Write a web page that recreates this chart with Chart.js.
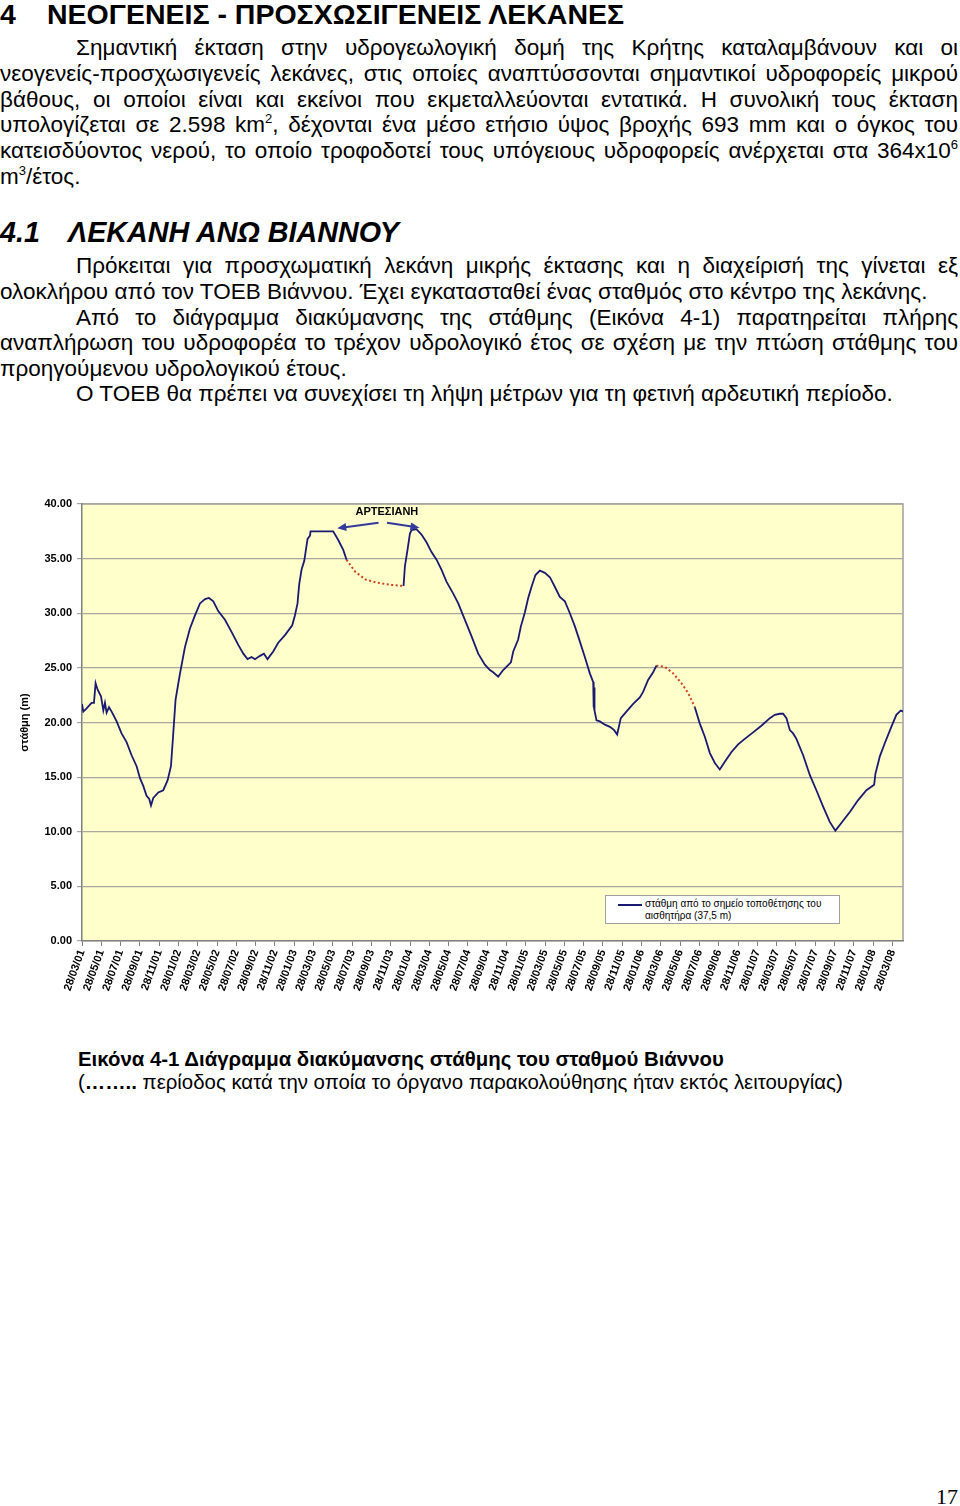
<!DOCTYPE html>
<html>
<head>
<meta charset="utf-8">
<script src="https://cdn.jsdelivr.net/npm/chart.js@4.4.0/dist/chart.umd.min.js"></script>
<style>
  body { margin: 0; background: #fff; font-family: "Liberation Sans", Arial, sans-serif; color: #000; }
  #page { position: relative; width: 960px; height: 1506px; overflow: hidden; }
  .abs { position: absolute; left: 0; white-space: nowrap; }
  .h1 { font-weight: bold; font-size: 28.5px; }
  .h2 { font-weight: bold; font-style: italic; font-size: 28.7px; }
  .ln { position: absolute; left: 0; width: 958px; font-size: 22.5px; line-height: 24px; white-space: nowrap; }
  .j { text-align: justify; text-align-last: justify; white-space: normal; }
  .ind { padding-left: 76px; box-sizing: border-box; }
  sup { font-size: 13px; line-height: 0; vertical-align: 9px; }
  #chartbox { position: absolute; left: 0; top: 480px; width: 960px; height: 540px; }
  #legend { position: absolute; left: 605px; top: 895px; width: 233px; height: 27px; border: 1px solid #a0a0a0; background: #fff; font-size: 10px; line-height: 12px; }
  #legend .swatch { position: absolute; left: 12px; top: 8px; width: 24px; height: 2px; background: #1a1a70; }
  #legend .txt { position: absolute; left: 39px; top: 2px; white-space: nowrap; }
  .cap { position: absolute; left: 78px; font-size: 20.4px; line-height: 23px; white-space: nowrap; }
  #pg { position: absolute; left: 936px; top: 1484px; font-family: "Liberation Serif", "DejaVu Serif", serif; font-size: 22px; }
</style>
</head>
<body>
<div id="page">
  <div class="abs h1" style="top:-2px">4<span class="abs" style="left:47px">ΝΕΟΓΕΝΕΙΣ - ΠΡΟΣΧΩΣΙΓΕΝΕΙΣ ΛΕΚΑΝΕΣ</span></div>

  <div class="ln j ind" style="top:36px">Σημαντική έκταση στην υδρογεωλογική δομή της Κρήτης καταλαμβάνουν και οι</div>
  <div class="ln j" style="top:62px">νεογενείς-προσχωσιγενείς λεκάνες, στις οποίες αναπτύσσονται σημαντικοί υδροφορείς μικρού</div>
  <div class="ln j" style="top:88px">βάθους, οι οποίοι είναι και εκείνοι που εκμεταλλεύονται εντατικά. Η συνολική τους έκταση</div>
  <div class="ln j" style="top:113px">υπολογίζεται σε 2.598 km<sup>2</sup>, δέχονται ένα μέσο ετήσιο ύψος βροχής 693 mm και ο όγκος του</div>
  <div class="ln j" style="top:139px">κατεισδύοντος νερού, το οποίο τροφοδοτεί τους υπόγειους υδροφορείς ανέρχεται στα 364x10<sup>6</sup></div>
  <div class="ln" style="top:165px">m<sup>3</sup>/έτος.</div>

  <div class="abs h2" style="top:216px">4.1<span class="abs" style="left:68px">ΛΕΚΑΝΗ ΑΝΩ ΒΙΑΝΝΟΥ</span></div>

  <div class="ln j ind" style="top:254px">Πρόκειται για προσχωματική λεκάνη μικρής έκτασης και η διαχείρισή της γίνεται εξ</div>
  <div class="ln" style="top:280px">ολοκλήρου από τον ΤΟΕΒ Βιάννου. Έχει εγκατασταθεί ένας σταθμός στο κέντρο της λεκάνης.</div>
  <div class="ln j ind" style="top:306px">Από το διάγραμμα διακύμανσης της στάθμης (Εικόνα 4-1) παρατηρείται πλήρης</div>
  <div class="ln j" style="top:331px">αναπλήρωση του υδροφορέα το τρέχον υδρολογικό έτος σε σχέση με την πτώση στάθμης του</div>
  <div class="ln" style="top:357px">προηγούμενου υδρολογικού έτους.</div>
  <div class="ln ind" style="top:382px">Ο ΤΟΕΒ θα πρέπει να συνεχίσει τη λήψη μέτρων για τη φετινή αρδευτική περίοδο.</div>

  <div id="chartbox"><canvas id="levelChart" width="960" height="540"></canvas></div>
  <div id="legend"><div class="swatch"></div><div class="txt">στάθμη από το σημείο τοποθέτησης του<br>αισθητήρα (37,5 m)</div></div>

  <div class="cap" style="top:1048px;font-weight:bold">Εικόνα 4-1 Διάγραμμα διακύμανσης στάθμης του σταθμού Βιάννου</div>
  <div class="cap" style="top:1071px">(<b>……..</b> περίοδος κατά την οποία το όργανο παρακολούθησης ήταν εκτός λειτουργίας)</div>

  <div id="pg">17</div>
</div>

<script>
// x = months since 28/03/01, y = water level (m)
var tickLabels = ["28/03/01","28/05/01","28/07/01","28/09/01","28/11/01","28/01/02","28/03/02","28/05/02",
  "28/07/02","28/09/02","28/11/02","28/01/03","28/03/03","28/05/03","28/07/03","28/09/03","28/11/03",
  "28/01/04","28/03/04","28/05/04","28/07/04","28/09/04","28/11/04","28/01/05","28/03/05","28/05/05",
  "28/07/05","28/09/05","28/11/05","28/01/06","28/03/06","28/05/06","28/07/06","28/09/06","28/11/06",
  "28/01/07","28/03/07","28/05/07","28/07/07","28/09/07","28/11/07","28/01/08","28/03/08"];

// measured level, null = sensor out of order
var levelMonths = [0.0,0.13,0.48,0.99,1.24,1.41,1.62,1.97,2.21,2.38,2.55,2.80,3.07,3.59,4.10,4.62,5.14,5.66,
  6.01,6.35,6.69,6.97,7.15,7.39,7.91,8.42,8.87,9.22,9.46,9.70,10.16,10.67,11.19,11.71,12.23,12.75,13.16,
  13.61,14.12,14.82,15.50,16.20,16.72,17.16,17.58,17.93,18.45,18.86,19.23,19.82,20.34,21.04,21.79,22.07,
  22.34,22.52,22.76,23.04,23.21,23.38,23.63,23.69,24.49,25.87,26.04,26.56,27.08,27.42,
  30.0,
  33.33,33.47,33.74,33.99,34.16,34.67,35.19,35.71,36.23,36.75,37.26,37.78,38.48,39.00,39.69,40.37,41.07,
  41.76,42.28,42.62,43.14,43.66,44.46,44.70,45.21,45.49,45.91,46.25,46.59,47.00,47.46,47.98,48.50,49.02,
  49.53,50.05,50.57,51.09,51.61,52.12,52.64,52.99,53.02,53.05,53.08,53.11,53.14,53.33,53.68,54.20,54.72,
  55.16,55.47,55.85,56.43,57.13,57.82,58.16,58.68,59.20,59.54,
  61.5,
  63.52,64.04,64.56,65.08,65.60,66.11,66.63,67.32,68.01,68.70,69.56,70.42,71.30,71.81,72.33,72.67,73.02,
  73.37,73.71,74.05,74.75,75.44,76.12,76.82,77.51,78.09,78.71,79.59,80.45,81.31,82.11,82.24,82.70,83.21,
  83.89,84.41,84.87,85.10];
var levelValues = [21.7,21.0,21.3,21.8,21.8,23.6,23.0,22.4,21.1,21.8,20.9,21.4,21.0,20.1,19.0,18.2,17.0,16.0,
  14.9,14.2,13.3,13.0,12.4,13.1,13.6,13.8,14.7,16.0,19.0,22.1,24.5,26.9,28.6,29.8,30.9,31.3,31.4,
  31.1,30.2,29.4,28.3,27.1,26.3,25.8,26.0,25.8,26.1,26.3,25.8,26.5,27.3,28.0,28.9,29.8,
  30.9,32.7,34.0,34.8,35.8,36.8,37.1,37.5,37.5,37.5,37.5,36.7,35.8,34.9,
  null,
  32.5,34.3,35.8,37.3,37.6,37.7,37.2,36.5,35.6,34.9,34.0,32.9,31.8,30.9,29.4,27.9,26.3,
  25.3,24.8,24.6,24.2,24.8,25.5,26.5,27.6,28.8,30.1,31.4,32.4,33.5,33.9,33.7,33.3,32.4,
  31.5,31.1,30.0,28.8,27.4,26.0,24.5,23.7,21.4,23.5,21.3,23.2,21.1,20.2,20.1,19.8,19.6,
  19.3,18.9,20.4,21.0,21.7,22.3,22.8,23.9,24.6,25.2,
  null,
  21.4,19.9,18.7,17.2,16.3,15.7,16.4,17.3,18.0,18.5,19.1,19.7,20.4,20.7,20.8,20.8,20.4,
  19.3,19.0,18.5,17.0,15.2,13.8,12.3,10.9,10.1,10.8,11.8,12.9,13.8,14.3,15.3,16.9,18.1,
  19.6,20.7,21.1,21.0];

// estimated level while the instrument was out of order
var gapMonths = [27.42,28.32,29.36,30.57,31.95,33.33, 45, 59.54,60.41,61.27,62.13,62.83,63.52];
var gapValues = [34.9,33.8,33.1,32.8,32.6,32.5, null, 25.2,25.1,24.5,23.6,22.7,21.4];

function pairs(xs, ys) {
  return xs.map(function (x, i) { return { x: x, y: ys[i] }; });
}

var artesian = { text: "ΑΡΤΕΣΙΑΝΗ", x: 31.6, y: 39.27,
  arrows: [[30.74, 38.29, 26.46, 37.78], [31.61, 38.29, 34.98, 37.83]] };

var plotStyle = {
  id: 'plotStyle',
  beforeDraw: function (chart) {
    var a = chart.chartArea, c = chart.ctx;
    c.save();
    c.fillStyle = '#ffffcc';
    c.fillRect(a.left, a.top, a.right - a.left, a.bottom - a.top);
    c.strokeStyle = '#a0a0a0';
    c.lineWidth = 1.5;
    c.beginPath();
    c.moveTo(a.left, a.top); c.lineTo(a.right, a.top); c.lineTo(a.right, a.bottom);
    c.stroke();
    c.restore();
  },
  afterDatasetsDraw: function (chart) {
    var c = chart.ctx, xs = chart.scales.x, ys = chart.scales.y;
    c.save();
    c.fillStyle = '#000';
    c.font = 'bold 11px "Liberation Sans", Arial, sans-serif';
    c.textAlign = 'center';
    c.textBaseline = 'middle';
    c.fillText(artesian.text, xs.getPixelForValue(artesian.x), ys.getPixelForValue(artesian.y));
    c.strokeStyle = '#333a99';
    c.fillStyle = '#333a99';
    c.lineWidth = 2;
    artesian.arrows.forEach(function (ar) {
      var x1 = xs.getPixelForValue(ar[0]), y1 = ys.getPixelForValue(ar[1]);
      var x2 = xs.getPixelForValue(ar[2]), y2 = ys.getPixelForValue(ar[3]);
      var ang = Math.atan2(y2 - y1, x2 - x1);
      c.beginPath();
      c.moveTo(x1, y1);
      c.lineTo(x2 - 6 * Math.cos(ang), y2 - 6 * Math.sin(ang));
      c.stroke();
      c.beginPath();
      c.moveTo(x2, y2);
      c.lineTo(x2 - 9 * Math.cos(ang) + 4 * Math.sin(ang), y2 - 9 * Math.sin(ang) - 4 * Math.cos(ang));
      c.lineTo(x2 - 9 * Math.cos(ang) - 4 * Math.sin(ang), y2 - 9 * Math.sin(ang) + 4 * Math.cos(ang));
      c.closePath();
      c.fill();
    });
    c.restore();
  }
};

var ctx = document.getElementById("levelChart").getContext('2d');
var levelChart = new Chart(ctx, {
  type: 'line',
  data: {
    datasets: [{
      label: 'στάθμη από το σημείο τοποθέτησης του αισθητήρα (37,5 m)',
      data: pairs(levelMonths, levelValues),
      borderColor: '#1a1a70',
      borderWidth: 1.8,
      pointRadius: 0,
      tension: 0,
      spanGaps: false
    }, {
      label: 'gap',
      data: pairs(gapMonths, gapValues),
      borderColor: '#d0401a',
      borderWidth: 2,
      borderDash: [2, 2.5],
      pointRadius: 0,
      tension: 0,
      spanGaps: false
    }]
  },
  options: {
    responsive: false,
    animation: false,
    layout: { padding: { left: 14, top: 24, right: 57, bottom: 0 } },
    plugins: { legend: { display: false }, tooltip: { enabled: false } },
    scales: {
      x: {
        type: 'linear',
        min: 0,
        max: 85.1,
        afterBuildTicks: function (scale) {
          scale.ticks = tickLabels.map(function (t, i) { return { value: i * 2 }; });
        },
        afterFit: function (scale) { scale.height = 79; },
        ticks: {
          autoSkip: false,
          minRotation: 70,
          maxRotation: 70,
          padding: 2,
          color: '#000',
          font: { family: '"Liberation Sans", Arial, sans-serif', size: 11, weight: 'bold' },
          callback: function (v) { return tickLabels[Math.round(v / 2)]; }
        },
        grid: { drawOnChartArea: false, drawTicks: true, tickLength: 5, color: '#808080' },
        border: { color: '#808080', width: 1.5 }
      },
      y: {
        min: 0,
        max: 40,
        afterFit: function (scale) { scale.width = 68; },
        ticks: {
          stepSize: 5,
          padding: 5,
          color: '#000',
          font: { family: '"Liberation Sans", Arial, sans-serif', size: 11, weight: 'bold' },
          callback: function (v) { return v.toFixed(2); }
        },
        grid: { color: '#a8a8a0', lineWidth: 1.2, tickLength: 5 },
        border: { color: '#808080', width: 1.5 },
        title: {
          display: true,
          text: 'στάθμη (m)',
          color: '#000',
          font: { family: '"Liberation Sans", Arial, sans-serif', size: 11, weight: 'bold' }
        }
      }
    }
  },
  plugins: [plotStyle]
});
</script>
</body>
</html>
